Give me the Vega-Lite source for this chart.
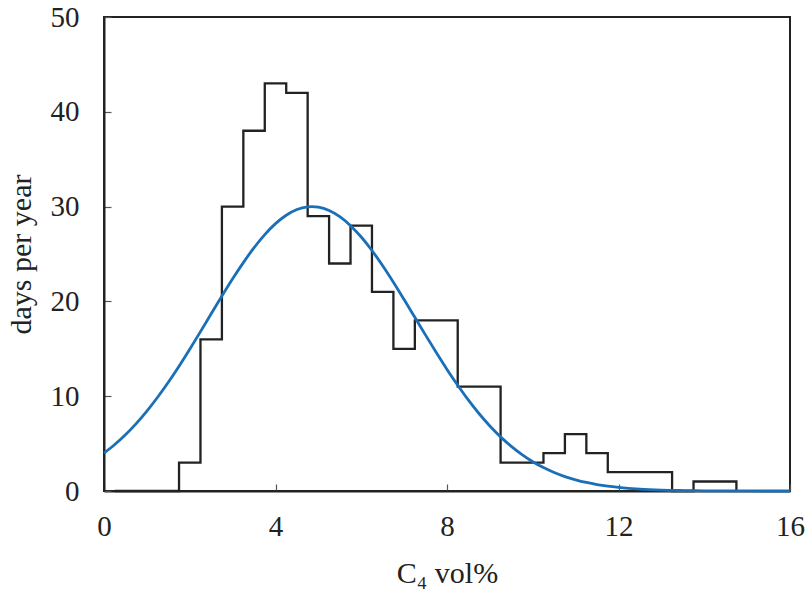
{
  "$schema": "https://vega.github.io/schema/vega-lite/v6.json",
  "width": 686,
  "height": 474,
  "autosize": "none",
  "padding": {"left": 104, "top": 17, "right": 18, "bottom": 102},
  "background": "white",
  "config": {
    "view": {"stroke": "#222222", "strokeWidth": 2},
    "font": "Liberation Serif",
    "axis": {
      "grid": false,
      "domainColor": "#222222",
      "domainWidth": 2,
      "tickColor": "#555555",
      "tickWidth": 1.2,
      "tickSize": -7,
      "labelFont": "Liberation Serif",
      "labelFontSize": 29,
      "labelColor": "#222222",
      "labelFlush": false,
      "titleFont": "Liberation Serif",
      "titleFontSize": 30,
      "titleFontWeight": "normal",
      "titleColor": "#222222"
    }
  },
  "layer": [
    {
      "data": {"values": [
        {"x": 0.25, "days": 0},
        {"x": 1.75, "days": 3},
        {"x": 2.25, "days": 16},
        {"x": 2.75, "days": 30},
        {"x": 3.25, "days": 38},
        {"x": 3.75, "days": 43},
        {"x": 4.25, "days": 42},
        {"x": 4.75, "days": 29},
        {"x": 5.25, "days": 24},
        {"x": 5.75, "days": 28},
        {"x": 6.25, "days": 21},
        {"x": 6.75, "days": 15},
        {"x": 7.25, "days": 18},
        {"x": 7.75, "days": 18},
        {"x": 8.25, "days": 11},
        {"x": 8.75, "days": 11},
        {"x": 9.25, "days": 3},
        {"x": 9.75, "days": 3},
        {"x": 10.25, "days": 4},
        {"x": 10.75, "days": 6},
        {"x": 11.25, "days": 4},
        {"x": 11.75, "days": 2},
        {"x": 12.25, "days": 2},
        {"x": 12.75, "days": 2},
        {"x": 13.25, "days": 0},
        {"x": 13.75, "days": 1},
        {"x": 14.25, "days": 1},
        {"x": 14.75, "days": 0}
      ]},
      "mark": {"type": "line", "interpolate": "step-after", "color": "#222222", "strokeWidth": 2.3},
      "encoding": {
        "x": {"field": "x", "type": "quantitative", "scale": {"domain": [0, 16], "nice": false},
              "axis": {"values": [0, 4, 8, 12, 16], "title": "C₄ vol%", "labelPadding": 28, "titlePadding": 17}},
        "y": {"field": "days", "type": "quantitative", "scale": {"domain": [0, 50], "nice": false},
              "axis": {"values": [0, 10, 20, 30, 40, 50], "title": "days per year", "labelPadding": 32, "titlePadding": 14}}
      }
    },
    {
      "data": {"values": [
        {"x": 0, "days": 4.00},
        {"x": 0.25, "days": 4.90},
        {"x": 0.5, "days": 5.93},
        {"x": 0.75, "days": 7.11},
        {"x": 1.0, "days": 8.43},
        {"x": 1.25, "days": 9.89},
        {"x": 1.5, "days": 11.47},
        {"x": 1.75, "days": 13.17},
        {"x": 2.0, "days": 14.96},
        {"x": 2.25, "days": 16.81},
        {"x": 2.5, "days": 18.69},
        {"x": 2.75, "days": 20.56},
        {"x": 3.0, "days": 22.38},
        {"x": 3.25, "days": 24.09},
        {"x": 3.5, "days": 25.67},
        {"x": 3.75, "days": 27.05},
        {"x": 4.0, "days": 28.20},
        {"x": 4.25, "days": 29.09},
        {"x": 4.5, "days": 29.69},
        {"x": 4.75, "days": 29.97},
        {"x": 4.85, "days": 30.00},
        {"x": 5.0, "days": 29.94},
        {"x": 5.25, "days": 29.59},
        {"x": 5.5, "days": 28.94},
        {"x": 5.75, "days": 27.99},
        {"x": 6.0, "days": 26.79},
        {"x": 6.25, "days": 25.37},
        {"x": 6.5, "days": 23.76},
        {"x": 6.75, "days": 22.02},
        {"x": 7.0, "days": 20.19},
        {"x": 7.25, "days": 18.32},
        {"x": 7.5, "days": 16.44},
        {"x": 7.75, "days": 14.60},
        {"x": 8.0, "days": 12.82},
        {"x": 8.25, "days": 11.15},
        {"x": 8.5, "days": 9.58},
        {"x": 8.75, "days": 8.15},
        {"x": 9.0, "days": 6.86},
        {"x": 9.25, "days": 5.71},
        {"x": 9.5, "days": 4.71},
        {"x": 9.75, "days": 3.84},
        {"x": 10.0, "days": 3.09},
        {"x": 10.25, "days": 2.47},
        {"x": 10.5, "days": 1.95},
        {"x": 10.75, "days": 1.52},
        {"x": 11.0, "days": 1.18},
        {"x": 11.25, "days": 0.90},
        {"x": 11.5, "days": 0.68},
        {"x": 11.75, "days": 0.51},
        {"x": 12.0, "days": 0.38},
        {"x": 12.5, "days": 0.20},
        {"x": 13.0, "days": 0.10},
        {"x": 13.5, "days": 0.05},
        {"x": 14.0, "days": 0.02},
        {"x": 14.5, "days": 0.01},
        {"x": 15.0, "days": 0.004},
        {"x": 16.0, "days": 0.001}
      ]},
      "mark": {"type": "line", "interpolate": "monotone", "color": "#1a70b8", "strokeWidth": 2.8},
      "encoding": {
        "x": {"field": "x", "type": "quantitative"},
        "y": {"field": "days", "type": "quantitative"}
      }
    }
  ]
}
